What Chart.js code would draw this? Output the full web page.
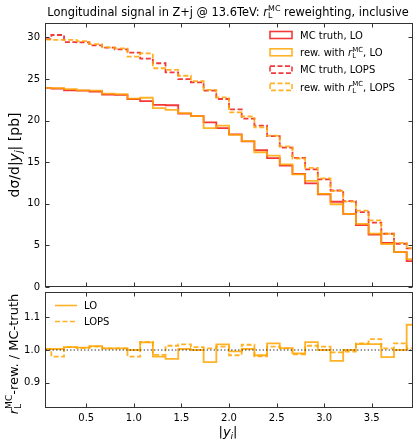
<!DOCTYPE html>
<html>
<head>
<meta charset="utf-8">
<script src="https://cdn.jsdelivr.net/npm/chart.js@4.4.1/dist/chart.umd.min.js"></script>
<style>
html, body { margin: 0; padding: 0; background: #fff; }
#wrap { position: relative; width: 414px; height: 439px; }
.box { position: absolute; left: 0; width: 414px; }
</style>
</head>
<body>
<div id="wrap">
  <div class="box" style="top:0;height:290px"><canvas id="main"></canvas></div>
  <div class="box" style="top:290px;height:149px"><canvas id="ratio"></canvas></div>
</div>
<script>
// bin edges in |y_j| (30 bins of width 2/15)
const binEdges = [0, 0.1333, 0.2667, 0.4, 0.5333, 0.6667, 0.8, 0.9333, 1.0667, 1.2,
  1.3333, 1.4667, 1.6, 1.7333, 1.8667, 2.0, 2.1333, 2.2667, 2.4, 2.5333,
  2.6667, 2.8, 2.9333, 3.0667, 3.2, 3.3333, 3.4667, 3.6, 3.7333, 3.8667, 4.0];

// dsigma/d|y_j| [pb]
const truthLO = [23.93, 23.85, 23.65, 23.6, 23.5, 23.13, 23.1, 22.6, 22.35, 21.9,
  21.85, 20.85, 20.55, 19.8, 19.1, 18.35, 17.5, 16.45, 15.5, 14.6,
  13.6, 12.45, 11.15, 10.25, 8.8, 7.45, 6.3, 5.3, 4.2, 3.12];
const rewLO = [23.95, 23.9, 23.8, 23.65, 23.6, 23.25, 23.2, 22.65, 22.75, 21.5,
  21.3, 20.9, 20.55, 19.1, 19.4, 18.3, 17.55, 16.2, 15.8, 14.75,
  13.55, 12.75, 11.2, 9.95, 8.8, 7.58, 6.42, 5.17, 4.19, 3.36];
const truthLOPS = [29.8, 30.3, 29.45, 29.4, 29.05, 28.77, 28.57, 28.17, 27.45, 26.9,
  25.8, 25.0, 24.6, 23.6, 22.6, 21.35, 20.25, 19.4, 18.13, 16.75,
  15.53, 14.15, 12.93, 11.6, 10.32, 9.0, 7.75, 6.4, 5.2, 4.65];
const rewLOPS = [29.75, 29.7, 29.7, 29.55, 29.2, 28.8, 28.7, 27.7, 28.1, 26.3,
  26.1, 25.4, 24.75, 23.7, 22.8, 21.0, 20.5, 19.2, 18.2, 16.9,
  15.45, 14.33, 13.05, 11.55, 10.27, 9.18, 8.0, 6.4, 5.3, 4.68];

// r_L^MC-rew. / MC-truth
const ratioLO = [1.003, 1.003, 1.009, 1.007, 1.012, 1.005, 1.005, 1.0, 1.023, 0.98,
  0.973, 1.003, 1.0, 0.963, 1.017, 0.996, 1.003, 0.984, 1.02, 1.006,
  0.99, 1.024, 1.0, 0.967, 1.0, 1.018, 1.018, 0.978, 1.0, 1.077];
const ratioLOPS = [1.003, 0.98, 1.009, 1.006, 1.01, 1.005, 1.005, 0.98, 1.025, 0.985,
  1.013, 1.017, 1.009, 1.005, 1.01, 0.984, 1.016, 0.981, 1.01, 1.005,
  0.987, 1.013, 1.01, 0.993, 0.995, 1.02, 1.033, 1.005, 1.02, 1.005];

const xTicks = [0.5, 1.0, 1.5, 2.0, 2.5, 3.0, 3.5];
const xTickLabels = ['0.5', '1.0', '1.5', '2.0', '2.5', '3.0', '3.5'];
const yTicksMain = [0, 5, 10, 15, 20, 25, 30];
const yTickLabelsMain = ['0', '5', '10', '15', '20', '25', '30'];
const yTicksRatio = [0.9, 1.0, 1.1];
const yTickLabelsRatio = ['0.9', '1.0', '1.1'];

const X_MIN = 0.0667, X_MAX = 3.9333;
const RED = 'rgba(240, 0, 0, 0.78)';
const ORANGE = 'rgba(255, 165, 0, 0.85)';
const DASH = [5, 2.5];
const FONT = 'DejaVu Sans';
const AXIS = '#333';
const TITLE_SIZE = 11.4, LABEL_SIZE = 13, LEGEND_SIZE = 10;

function fontOf(size, italic) {
  return (italic ? 'italic ' : '') + size + 'px "' + FONT + '"';
}

// text with r_L^MC style sub/superscripts
function segWidth(ctx, seg, size) {
  if (seg.t === undefined) {
    ctx.font = fontOf(size * 0.7, false);
    return Math.max(seg.s ? ctx.measureText(seg.s).width : 0, seg.p ? ctx.measureText(seg.p).width : 0);
  }
  ctx.font = fontOf(size, seg.i);
  return ctx.measureText(seg.t).width;
}

function drawRich(ctx, segs, x, y, size, align) {
  const total = segs.reduce((w, s) => w + segWidth(ctx, s, size), 0);
  let cx = align === 'center' ? x - total / 2 : (align === 'right' ? x - total : x);
  const base = y + size * 0.36;
  ctx.textAlign = 'left';
  ctx.textBaseline = 'alphabetic';
  ctx.fillStyle = '#000';
  segs.forEach(s => {
    const w = segWidth(ctx, s, size);
    if (s.t !== undefined) {
      ctx.font = fontOf(size, s.i);
      ctx.fillText(s.t, cx, base);
    } else {
      if (s.s) { ctx.font = fontOf(size * 0.7, s.si); ctx.fillText(s.s, cx, base + size * 0.22); }
      if (s.p) { ctx.font = fontOf(size * 0.7, false); ctx.fillText(s.p, cx, base - size * 0.42); }
    }
    cx += w;
  });
}

function drawRotated(ctx, segs, x, y, size) {
  ctx.save();
  ctx.translate(x, y);
  ctx.rotate(-Math.PI / 2);
  drawRich(ctx, segs, 0, 0, size, 'center');
  ctx.restore();
}

const rL = [{ t: 'r', i: true }, { s: 'L', p: 'MC' }];
const titleText = [{ t: 'Longitudinal signal in Z+j @ 13.6TeV: ' }, ...rL, { t: ' reweighting, inclusive' }];
const yTitleMain = [{ t: 'dσ/d|' }, { t: 'y', i: true }, { s: 'j', si: true }, { t: '| [pb]' }];
const yTitleRatio = [...rL, { t: '-rew. / MC-truth' }];
const xTitle = [{ t: '|' }, { t: 'y', i: true }, { s: 'j', si: true }, { t: '|' }];

const mainLegend = [
  { label: [{ t: 'MC truth, LO' }], color: RED, dash: [] },
  { label: [{ t: 'rew. with ' }, ...rL, { t: ', LO' }], color: ORANGE, dash: [] },
  { label: [{ t: 'MC truth, LOPS' }], color: RED, dash: DASH },
  { label: [{ t: 'rew. with ' }, ...rL, { t: ', LOPS' }], color: ORANGE, dash: DASH }
];
const ratioLegend = [
  { label: [{ t: 'LO' }], color: ORANGE, dash: [] },
  { label: [{ t: 'LOPS' }], color: ORANGE, dash: DASH }
];

function steps(vals) {
  return binEdges.map((e, i) => ({ x: e, y: vals[Math.min(i, vals.length - 1)] }));
}

function hist(label, vals, color, dash, order) {
  return {
    label: label, data: steps(vals), stepped: true,
    borderColor: color, backgroundColor: 'transparent', borderWidth: 1.8,
    borderDash: dash, pointRadius: 0, fill: false, order: order, clip: 0
  };
}

// frame, inward ticks and the mathtext labels
const framePlugin = {
  id: 'frame',
  afterDatasetsDraw(chart, args, opts) {
    const ctx = chart.ctx, a = chart.chartArea;
    const xs = chart.scales.x, ys = chart.scales.y;
    ctx.save();
    ctx.strokeStyle = AXIS;
    ctx.lineWidth = 1;
    ctx.setLineDash([]);
    const L = Math.round(a.left) + 0.5, R = Math.round(a.right) - 0.5;
    const T = Math.round(a.top) + 0.5, B = Math.round(a.bottom) - 0.5;
    ctx.strokeRect(L, T, R - L, B - T);
    ctx.beginPath();
    xTicks.forEach(v => {
      const px = Math.round(xs.getPixelForValue(v)) + 0.5;
      ctx.moveTo(px, B); ctx.lineTo(px, B - 4);
      ctx.moveTo(px, T); ctx.lineTo(px, T + 4);
    });
    opts.yTicks.forEach(v => {
      const py = Math.round(ys.getPixelForValue(v)) + 0.5;
      ctx.moveTo(L, py); ctx.lineTo(L + 4, py);
      ctx.moveTo(R, py); ctx.lineTo(R - 4, py);
    });
    ctx.stroke();
    ctx.restore();
  },
  afterDraw(chart, args, opts) {
    const ctx = chart.ctx;
    ctx.save();
    if (opts.title) drawRich(ctx, opts.title, opts.titleX, opts.titleY, TITLE_SIZE, 'center');
    drawRotated(ctx, opts.yTitle, opts.yTitleX, opts.yTitleY, opts.yTitleSize);
    if (opts.xTitle) drawRich(ctx, opts.xTitle, opts.xTitleX, opts.xTitleY, LABEL_SIZE, 'center');
    const lg = opts.legend;
    lg.items.forEach((it, i) => {
      const y = lg.y + i * lg.step;
      ctx.strokeStyle = it.color;
      ctx.lineWidth = 1.6;
      ctx.setLineDash(it.dash);
      if (lg.box) {
        ctx.strokeRect(lg.x, y - 3.5, lg.w, 7);
      } else {
        ctx.beginPath(); ctx.moveTo(lg.x, y); ctx.lineTo(lg.x + lg.w, y); ctx.stroke();
      }
      ctx.setLineDash([]);
      drawRich(ctx, it.label, lg.textX, y, LEGEND_SIZE, 'left');
    });
    ctx.restore();
  }
};

function fixedTicks(vals) {
  return s => { s.ticks = vals.map(v => ({ value: v })); };
}

// pin the axis boxes so the plot areas land where the reference has them
function pinSize(prop, size) {
  return s => {
    s[prop] = size;
    s.paddingTop = 0; s.paddingBottom = 0; s.paddingLeft = 0; s.paddingRight = 0;
  };
}

const tickFont = { family: FONT, size: 10 };

new Chart(document.getElementById('main'), {
  type: 'line',
  data: {
    datasets: [
      hist('MC truth, LO', truthLO, RED, [], 2),
      hist('rew. with r_L^MC, LO', rewLO, ORANGE, [], 1),
      hist('MC truth, LOPS', truthLOPS, RED, DASH, 2),
      hist('rew. with r_L^MC, LOPS', rewLOPS, ORANGE, DASH, 1)
    ]
  },
  options: {
    responsive: true, maintainAspectRatio: false, animation: false,
    layout: { autoPadding: false, padding: { top: 22.5, right: 1, bottom: 3, left: 0 } },
    plugins: {
      legend: { display: false }, tooltip: { enabled: false },
      frame: {
        yTicks: yTicksMain,
        title: titleText, titleX: 228, titleY: 11.7,
        yTitle: yTitleMain, yTitleX: 14, yTitleY: 155, yTitleSize: 14,
        legend: { items: mainLegend, x: 270, w: 22, y: 35, step: 17.3, textX: 300, box: true }
      }
    },
    scales: {
      x: {
        type: 'linear', min: X_MIN, max: X_MAX,
        grid: { display: false, drawTicks: false }, border: { display: false },
        ticks: { display: false },
        afterBuildTicks: fixedTicks(xTicks),
        afterFit: pinSize('height', 0)
      },
      y: {
        type: 'linear', min: 0, max: 31.8,
        grid: { display: false, drawTicks: false }, border: { display: false },
        ticks: { padding: 5, color: '#000', font: tickFont, callback: (v, i) => yTickLabelsMain[i] },
        afterBuildTicks: fixedTicks(yTicksMain),
        afterFit: pinSize('width', 45)
      }
    }
  },
  plugins: [framePlugin]
});

new Chart(document.getElementById('ratio'), {
  type: 'line',
  data: {
    datasets: [
      hist('LO', ratioLO, ORANGE, [], 1),
      hist('LOPS', ratioLOPS, ORANGE, DASH, 1),
      {
        label: 'unity', data: [{ x: 0, y: 1 }, { x: 4, y: 1 }],
        borderColor: '#222', borderWidth: 1.2, borderDash: [1.3, 2.2],
        pointRadius: 0, fill: false, order: 0, clip: 0
      }
    ]
  },
  options: {
    responsive: true, maintainAspectRatio: false, animation: false,
    layout: { autoPadding: false, padding: { top: 2, right: 1, bottom: 0, left: 0 } },
    plugins: {
      legend: { display: false }, tooltip: { enabled: false },
      frame: {
        yTicks: yTicksRatio,
        yTitle: yTitleRatio, yTitleX: 13, yTitleY: 64, yTitleSize: LABEL_SIZE,
        xTitle: xTitle, xTitleX: 228, xTitleY: 141.5,
        legend: { items: ratioLegend, x: 55, w: 22, y: 15.5, step: 16, textX: 84, box: false }
      }
    },
    scales: {
      x: {
        type: 'linear', min: X_MIN, max: X_MAX,
        grid: { display: false, drawTicks: false }, border: { display: false },
        ticks: { padding: 4, color: '#000', font: tickFont, maxRotation: 0, callback: (v, i) => xTickLabels[i] },
        afterBuildTicks: fixedTicks(xTicks),
        afterFit: pinSize('height', 31)
      },
      y: {
        type: 'linear', min: 0.823, max: 1.177,
        grid: { display: false, drawTicks: false }, border: { display: false },
        ticks: { padding: 5, color: '#000', font: tickFont, callback: (v, i) => yTickLabelsRatio[i] },
        afterBuildTicks: fixedTicks(yTicksRatio),
        afterFit: pinSize('width', 45)
      }
    }
  },
  plugins: [framePlugin]
});
</script>
</body>
</html>
